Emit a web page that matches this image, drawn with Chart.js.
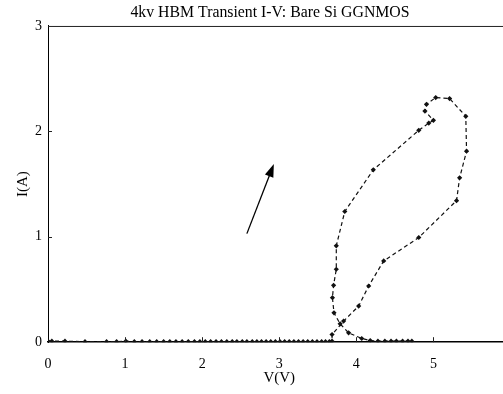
<!DOCTYPE html>
<html>
<head>
<meta charset="utf-8">
<script src="https://cdn.jsdelivr.net/npm/chart.js@4.4.0/dist/chart.umd.min.js"></script>
<style>
  html, body { margin: 0; padding: 0; background: #fff; overflow: hidden; }
  canvas { display: block; }
</style>
</head>
<body>
<canvas id="ivChart" width="528" height="394"></canvas>
<script>
// baseline: voltage climbs with almost no current
const riseV = [0, 0.05, 0.22, 0.48, 0.76, 0.89, 1.01, 1.12, 1.22, 1.32, 1.41, 1.5, 1.58, 1.66, 1.74,
               1.82, 1.9, 1.97, 2.04, 2.11, 2.18, 2.25, 2.32, 2.39, 2.45, 2.52, 2.58, 2.65, 2.71, 2.77,
               2.83, 2.89, 2.95, 3.01, 3.07, 3.13, 3.19, 3.25, 3.31, 3.37, 3.43, 3.49, 3.55, 3.6, 3.65];
const riseI = [0.01, 0.01, 0.01, 0.005, 0.005, 0.005, 0.01, 0.005, 0.005, 0.005, 0.005, 0.005, 0.005, 0.005, 0.005,
               0.005, 0.005, 0.005, 0.005, 0.005, 0.005, 0.005, 0.005, 0.005, 0.005, 0.005, 0.005, 0.005, 0.005, 0.005,
               0.005, 0.005, 0.005, 0.005, 0.005, 0.005, 0.005, 0.005, 0.005, 0.005, 0.005, 0.005, 0.005, 0.005, 0.005];

// loop: up the right side to the peak, back down the left side
const loopV = [3.685, 3.685, 3.835, 4.03, 4.16, 4.355, 4.81, 5.3, 5.34, 5.43, 5.42, 5.21, 5.03, 4.91, 4.89,
               5.0, 4.94, 4.81, 4.22, 3.85, 3.74, 3.74, 3.705, 3.69, 3.71, 3.79, 3.9, 4.07, 4.18];
const loopI = [0.01, 0.073, 0.2, 0.343, 0.533, 0.771, 0.993, 1.343, 1.559, 1.812, 2.143, 2.311, 2.321, 2.257, 2.193,
               2.105, 2.079, 2.01, 1.635, 1.24, 0.914, 0.692, 0.54, 0.422, 0.279, 0.174, 0.089, 0.035, 0.016];

// tail along the axis
const tailV = [4.28, 4.37, 4.45, 4.52, 4.6, 4.67, 4.72];
const tailI = [0.01, 0.01, 0.01, 0.01, 0.01, 0.01, 0.01];

const xTicks = [0, 1, 2, 3, 4, 5, 6];
const yTicks = [0, 1, 2, 3];

// arrow annotation, in data units
const arrowFrom = { x: 2.58, y: 1.03 };
const arrowTo = { x: 2.93, y: 1.69 };

const allV = riseV.concat(loopV, tailV);
const allI = riseI.concat(loopI, tailI);
const points = allV.map((v, i) => ({ x: v, y: allI[i] }));

const serif = "'Liberation Serif', 'Times New Roman', serif";

const frameAndArrow = {
    id: 'frameAndArrow',
    afterDraw(chart) {
        const ctx = chart.ctx;
        const area = chart.chartArea;
        const xs = chart.scales.x;
        const ys = chart.scales.y;
        ctx.save();
        ctx.strokeStyle = '#222';
        // top frame line
        ctx.lineWidth = 1;
        ctx.beginPath();
        ctx.moveTo(area.left, area.top + 0.5);
        ctx.lineTo(area.right, area.top + 0.5);
        ctx.stroke();
        // inward ticks
        ctx.beginPath();
        yTicks.slice(1, 3).forEach(t => {
            const py = Math.round(ys.getPixelForValue(t)) + 0.5;
            ctx.moveTo(area.left, py);
            ctx.lineTo(area.left + 4, py);
        });
        xTicks.slice(1, 6).forEach(t => {
            const px = Math.round(xs.getPixelForValue(t)) + 0.5;
            ctx.moveTo(px, area.bottom);
            ctx.lineTo(px, area.bottom - 5);
        });
        ctx.stroke();
        // arrow
        const x1 = xs.getPixelForValue(arrowFrom.x), y1 = ys.getPixelForValue(arrowFrom.y);
        const x2 = xs.getPixelForValue(arrowTo.x), y2 = ys.getPixelForValue(arrowTo.y);
        const ang = Math.atan2(y2 - y1, x2 - x1);
        const headLen = 13, headW = 4.5;
        ctx.strokeStyle = '#000';
        ctx.lineWidth = 1.3;
        ctx.beginPath();
        ctx.moveTo(x1, y1);
        ctx.lineTo(x2 - headLen * 0.8 * Math.cos(ang), y2 - headLen * 0.8 * Math.sin(ang));
        ctx.stroke();
        const bx = x2 - headLen * Math.cos(ang), by = y2 - headLen * Math.sin(ang);
        ctx.fillStyle = '#000';
        ctx.beginPath();
        ctx.moveTo(x2, y2);
        ctx.lineTo(bx + headW * Math.sin(ang), by - headW * Math.cos(ang));
        ctx.lineTo(bx - headW * Math.sin(ang), by + headW * Math.cos(ang));
        ctx.closePath();
        ctx.fill();
        ctx.restore();
    }
};

new Chart(document.getElementById('ivChart'), {
    type: 'scatter',
    data: {
        datasets: [{
            data: points,
            showLine: true,
            borderColor: '#111',
            borderWidth: 1.2,
            borderDash: [4, 3],
            backgroundColor: '#111',
            pointStyle: 'rectRot',
            pointRadius: 2.6,
            pointBorderWidth: 0,
            tension: 0
        }]
    },
    options: {
        responsive: false,
        animation: false,
        layout: { padding: { left: 12, right: 0, bottom: 7, top: 0 } },
        plugins: {
            legend: { display: false },
            tooltip: { enabled: false },
            title: {
                display: true,
                text: '4kv HBM Transient I-V: Bare Si GGNMOS',
                color: '#000',
                font: { family: serif, size: 15.8, weight: 'normal' },
                padding: { top: 3, bottom: 4 }
            }
        },
        scales: {
            x: {
                type: 'linear',
                min: 0,
                max: 6,
                afterBuildTicks: s => { s.ticks = xTicks.map(v => ({ value: v })); },
                ticks: { color: '#000', padding: 14, font: { family: serif, size: 14 } },
                grid: { display: false, drawTicks: false },
                border: { display: true, color: '#000', width: 1.5 },
                title: {
                    display: true,
                    text: 'V(V)',
                    color: '#000',
                    font: { family: serif, size: 15 },
                    padding: { top: -18, bottom: 0 }
                }
            },
            y: {
                type: 'linear',
                min: 0,
                max: 3,
                afterBuildTicks: s => { s.ticks = yTicks.map(v => ({ value: v })); },
                ticks: { color: '#000', padding: 6, font: { family: serif, size: 14 } },
                grid: { display: false, drawTicks: false },
                border: { display: true, color: '#000', width: 1 },
                title: {
                    display: true,
                    text: 'I(A)',
                    color: '#000',
                    font: { family: serif, size: 15 },
                    padding: { top: 2, bottom: -3 }
                }
            }
        }
    },
    plugins: [frameAndArrow]
});
</script>
</body>
</html>
